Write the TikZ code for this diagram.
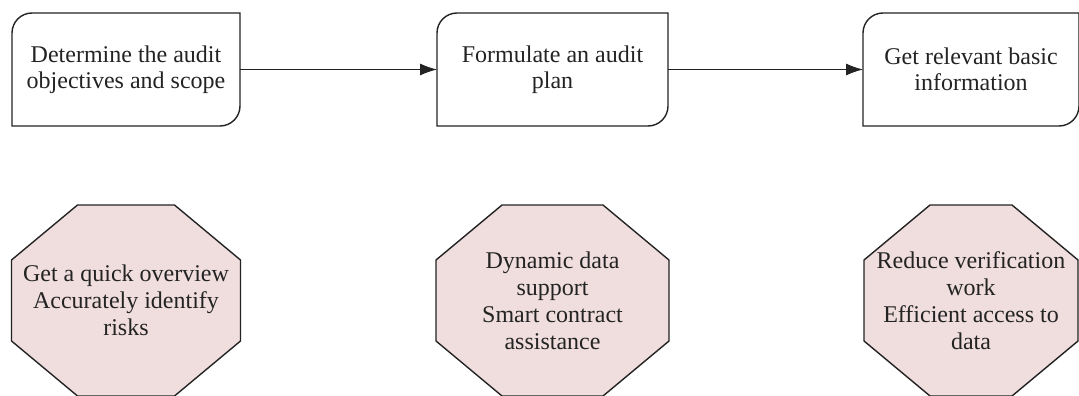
\documentclass[tikz,border=0pt]{standalone}
\usepackage{fontspec}
\setmainfont{Liberation Serif}
\usetikzlibrary{arrows.meta,calc,backgrounds,positioning}
\definecolor{notepink}{RGB}{240,221,221}
\definecolor{inkgray}{RGB}{35,35,35}
\tikzset{>={Latex[length=17pt,width=12pt]}}
\tikzset{
  stepbox/.style={inner sep=2pt, outer sep=0pt, minimum height=113pt, align=center,
    text=inkgray, font=\fontsize{24pt}{26pt}\selectfont},
  notebox/.style={inner sep=0pt, outer sep=0pt, minimum height=191pt, align=center,
    text=inkgray, font=\fontsize{24pt}{27pt}\selectfont},
  edgeline/.style={draw=inkgray, line width=1.4pt},
}

\begin{document}
\begin{tikzpicture}[x=1pt,y=-1pt]
            \useasboundingbox (0,0) rectangle (1079,396);
            \node [stepbox, minimum width=228pt] at (126,69.5) (scope) {Determine the audit\\objectives and scope};
            \node [stepbox, minimum width=231pt, right=197pt of scope] (plan) {Formulate an audit\\plan};
            \node [stepbox, minimum width=216pt, right=195pt of plan] (info) {Get relevant basic\\information};
            \node [notebox, minimum width=229pt, below=79pt of scope] (overview) {Get a quick overview\\Accurately identify\\risks};
            \node [notebox, minimum width=233pt, below=79pt of plan] (contract) {Dynamic data\\support\\Smart contract\\assistance};
            \node [notebox, minimum width=214pt, below=79pt of info] (access) {Reduce verification\\work\\Efficient access to\\data};
            \draw[->, draw=inkgray, line width=1pt] (scope) to (plan);
            \draw[->, draw=inkgray, line width=1pt] (plan) to (info);
            % steps: round corner top left and bottom right
            \foreach \n in {scope,plan,info}
              \draw[edgeline] (\n.north east) -- ([xshift=20pt]\n.north west) arc[start angle=90, end angle=180, radius=20pt]
                -- (\n.south west) -- ([xshift=-20pt]\n.south east) arc[start angle=270, end angle=360, radius=20pt] -- cycle;
            % notes: octagons behind the text
            \begin{scope}[on background layer]
              \foreach \n in {overview,contract,access}
                \draw[edgeline, fill=notepink] ($(\n.north west)+(66,0)$) -- ($(\n.north east)+(-66,0)$)
                  -- ($(\n.north east)+(0,55)$) -- ($(\n.south east)+(0,-55)$) -- ($(\n.south east)+(-66,0)$)
                  -- ($(\n.south west)+(66,0)$) -- ($(\n.south west)+(0,-55)$) -- ($(\n.north west)+(0,55)$) -- cycle;
            \end{scope}
          \end{tikzpicture}
\end{document}
